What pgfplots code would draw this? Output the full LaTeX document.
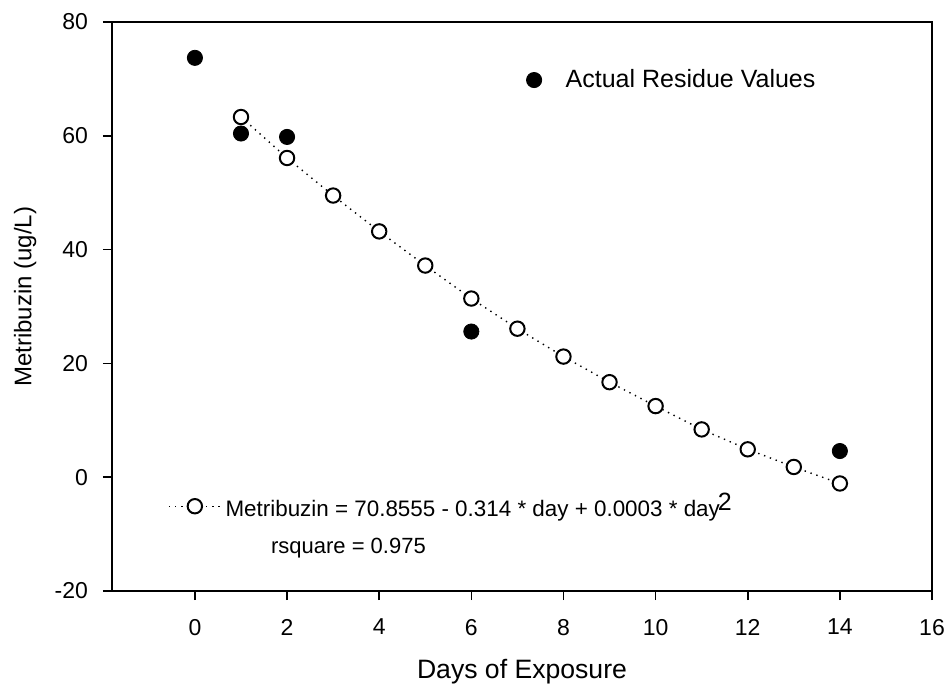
\documentclass[border=0pt]{standalone}
\usepackage{fontspec}
\setmainfont{Liberation Sans}
\usepackage{pgfplots}
\pgfplotsset{compat=1.18}
\usetikzlibrary{calc}

\begin{document}
\begin{tikzpicture}
\pgfplotsset{
  mybase/.style={
    scale only axis,
    width=410pt, height=284.5pt,
    xmin=-1.8, xmax=16, ymin=-20, ymax=80,
  },
}
% main axis with the data
\begin{axis}[
    mybase, name=main,
    xtick={0,2,...,16}, ytick={-20,0,...,80},
    tick align=outside, xtick pos=lower, ytick pos=left,
    major tick length=4.5pt,
    axis line style={line width=0.8pt}, tick style={line width=0.8pt, black},
    /pgf/number format/assume math mode=true,
    ticklabel style={font=\fontsize{11.5}{13}\selectfont},
    xticklabel style={yshift=-6pt},
    yticklabel style={xshift=-4pt},
    xlabel={Days of Exposure}, ylabel={Metribuzin (ug/L)},
    every axis x label/.style={at={(axis description cs:0.5,-0.153)}, anchor=base,
      font=\fontsize{13.3}{15}\selectfont},
    every axis y label/.style={at={(axis description cs:-0.106,0.517)}, rotate=90, anchor=center,
      font=\fontsize{12}{15}\selectfont},
    legend style={at={(axis description cs:0.505,0.898)}, anchor=west, draw=none, fill=none,
      font=\fontsize{12.5}{15}\selectfont, inner sep=0pt},
    legend cell align=left,
    clip=false,
]
% fitted values (open circles, dotted)
\addplot[black, line width=0.7pt, dash pattern=on 0.7pt off 2.4pt,
    mark=*, mark size=3.6pt, mark options={solid, line width=1pt, fill=white}, forget plot]
  coordinates {(1,63.3)(2,56.1)(3,49.5)(4,43.2)(5,37.2)(6,31.4)(7,26.1)(8,21.2)
               (9,16.7)(10,12.5)(11,8.4)(12,4.9)(13,1.8)(14,-1.1)};
% actual residue values
\addplot[only marks, mark=*, mark size=3.8pt, black]
  coordinates {(0,73.7)(1,60.4)(2,59.8)(6,25.6)(14,4.6)};
\addlegendentry{\hspace{10pt}Actual Residue Values}
\node[anchor=west, font=\fontsize{11}{13}\selectfont] at (axis cs:1.5,-12.5) {rsquare = 0.975};
\end{axis}
% second axis only for the fit legend
\begin{axis}[
    mybase, hide axis,
    legend style={at={(axis description cs:0.068,0.149)}, anchor=west, draw=none, fill=none,
      font=\fontsize{11.2}{13}\selectfont, inner sep=0pt},
    legend image code/.code={%
      \draw[mark repeat=2, mark phase=2, #1] plot coordinates {(0pt,0pt) (13pt,0pt) (26pt,0pt)};},
]
\addlegendimage{black, line width=0.7pt, dash pattern=on 0.7pt off 2.4pt,
    mark=*, mark size=3.6pt, mark options={solid, line width=1pt, fill=white}}
\addlegendentry{Metribuzin = 70.8555 - 0.314 * day + 0.0003 * day\kern-1pt\raisebox{0.55ex}{\fontsize{12.5}{13}\selectfont 2}}
\end{axis}
\pgfresetboundingbox
\path[use as bounding box] ($(main.south west)+(-56pt,-47.5pt)$) rectangle ($(main.north east)+(7pt,11pt)$);
\end{tikzpicture}
\end{document}
